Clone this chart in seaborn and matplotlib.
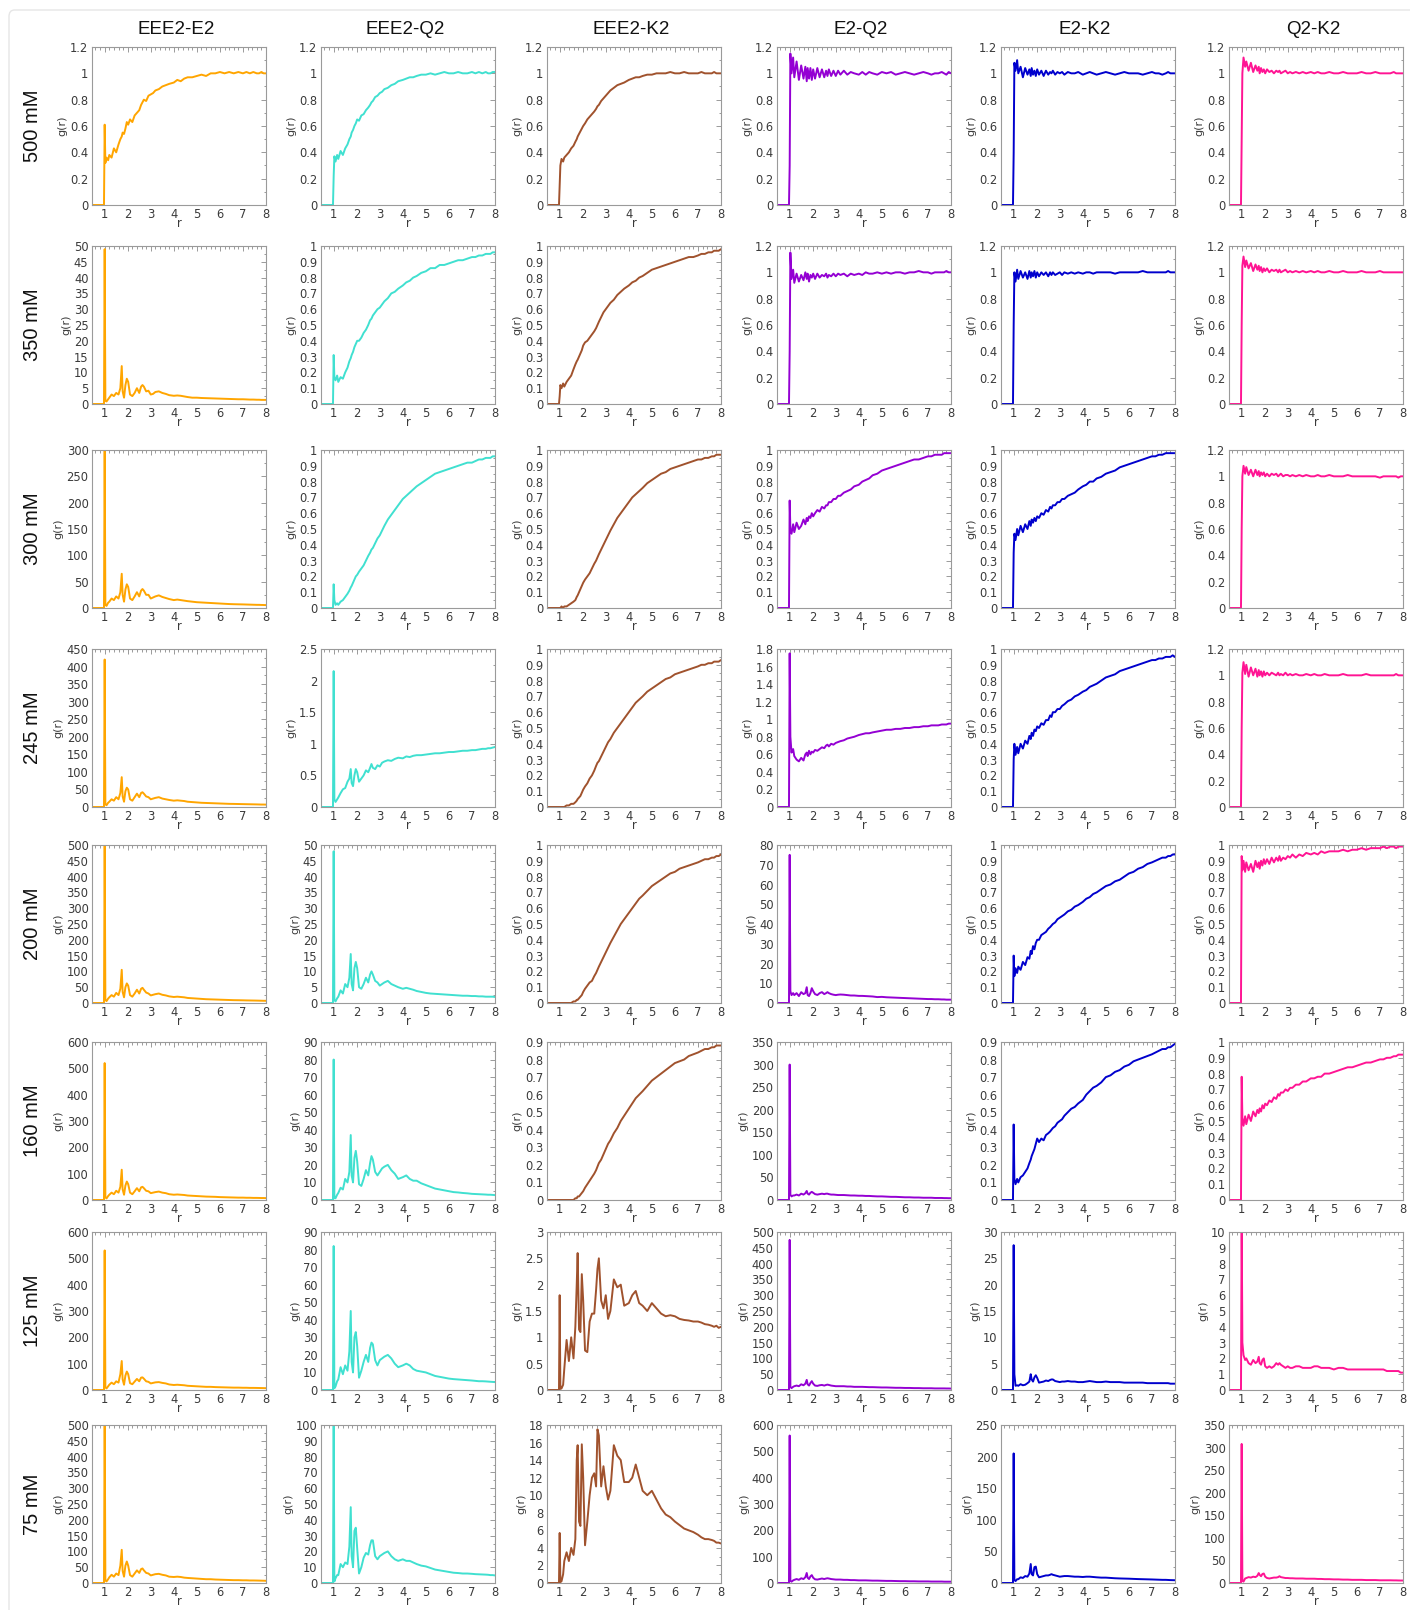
import matplotlib
matplotlib.use("Agg")
import numpy as np
import matplotlib.pyplot as plt
import seaborn as sns
from matplotlib.ticker import AutoMinorLocator, FuncFormatter
from matplotlib.patches import FancyBboxPatch

sns.set_theme(style="white")
plt.rcParams['font.family'] = ['DejaVu Sans']

# ---------------- data ----------------
R = [0.45, 0.97, 1.0, 1.03, 1.08, 1.15,
     1.2, 1.3, 1.4, 1.5, 1.6, 1.68,
     1.74, 1.78, 1.84, 1.9, 1.96, 2.02,
     2.1, 2.2, 2.3, 2.4, 2.5, 2.58,
     2.64, 2.7, 2.8, 2.9, 3.0, 3.1,
     3.2, 3.35, 3.5, 3.65, 3.8, 4.0,
     4.15, 4.3, 4.45, 4.6, 4.8, 5.0,
     5.2, 5.4, 5.6, 5.8, 6.0, 6.2,
     6.4, 6.6, 6.8, 7.0, 7.15, 7.3,
     7.45, 7.6, 7.7, 7.8, 7.9, 8.0]

PAIRS = ["EEE2-E2", "EEE2-Q2", "EEE2-K2", "E2-Q2", "E2-K2", "Q2-K2"]
CONCS = ["500 mM", "350 mM", "300 mM", "245 mM", "200 mM", "160 mM", "125 mM", "75 mM"]
COLORS = ["#FFA500", "#40E0D0", "#A0522D", "#9400D3", "#0000CD", "#FF1493"]

YTOP_EEE2_E2 = [1.2, 50, 300, 450, 500, 600, 600, 500]
YSTEP_EEE2_E2 = [0.2, 5, 50, 50, 50, 100, 100, 50]
YTOP_EEE2_Q2 = [1.2, 1, 1, 2.5, 50, 90, 90, 100]
YSTEP_EEE2_Q2 = [0.2, 0.1, 0.1, 0.5, 5, 10, 10, 10]
YTOP_EEE2_K2 = [1.2, 1, 1, 1, 1, 0.9, 3, 18]
YSTEP_EEE2_K2 = [0.2, 0.1, 0.1, 0.1, 0.1, 0.1, 0.5, 2]
YTOP_E2_Q2 = [1.2, 1.2, 1, 1.8, 80, 350, 500, 600]
YSTEP_E2_Q2 = [0.2, 0.2, 0.1, 0.2, 10, 50, 50, 100]
YTOP_E2_K2 = [1.2, 1.2, 1, 1, 1, 0.9, 30, 250]
YSTEP_E2_K2 = [0.2, 0.2, 0.1, 0.1, 0.1, 0.1, 5, 50]
YTOP_Q2_K2 = [1.2, 1.2, 1.2, 1.2, 1, 1, 10, 350]
YSTEP_Q2_K2 = [0.2, 0.2, 0.2, 0.2, 0.1, 0.1, 1, 50]

# ---- 500 mM ----
EEE2_E2_500 = [0, 0, 0.61, 0.32, 0.36, 0.34,
               0.38, 0.36, 0.43, 0.40, 0.46, 0.50,
               0.52, 0.55, 0.54, 0.58, 0.63, 0.61,
               0.65, 0.63, 0.68, 0.70, 0.72, 0.76,
               0.78, 0.80, 0.79, 0.83, 0.84, 0.85,
               0.87, 0.88, 0.90, 0.91, 0.92, 0.93,
               0.95, 0.94, 0.96, 0.97, 0.97, 0.98,
               0.99, 0.98, 1.00, 1.00, 1.01, 1.00,
               1.01, 1.00, 1.01, 1.00, 1.01, 1.00,
               1.01, 1.00, 1.00, 1.01, 1.00, 1.00]
EEE2_Q2_500 = [0, 0, 0.22, 0.37, 0.33, 0.38,
               0.35, 0.41, 0.38, 0.43, 0.46, 0.50,
               0.52, 0.55, 0.57, 0.60, 0.62, 0.65,
               0.64, 0.68, 0.69, 0.72, 0.74, 0.76,
               0.78, 0.79, 0.82, 0.83, 0.85, 0.86,
               0.88, 0.89, 0.91, 0.92, 0.94, 0.95,
               0.96, 0.97, 0.97, 0.98, 0.99, 0.99,
               1.00, 0.99, 1.00, 1.01, 1.00, 1.00,
               1.01, 1.00, 1.00, 1.01, 1.00, 1.01,
               1.00, 1.01, 1.00, 1.00, 1.01, 1.01]
EEE2_K2_500 = [0, 0, 0.15, 0.30, 0.35, 0.33,
               0.36, 0.38, 0.40, 0.43, 0.45, 0.48,
               0.50, 0.52, 0.54, 0.56, 0.58, 0.60,
               0.62, 0.65, 0.67, 0.69, 0.71, 0.73,
               0.75, 0.76, 0.79, 0.81, 0.83, 0.85,
               0.87, 0.89, 0.91, 0.92, 0.93, 0.95,
               0.96, 0.97, 0.97, 0.98, 0.99, 0.99,
               1.00, 1.00, 1.00, 1.01, 1.00, 1.00,
               1.01, 1.00, 1.00, 1.00, 1.01, 1.00,
               1.00, 1.00, 1.01, 1.00, 1.00, 1.00]
E2_Q2_500 = [0, 0, 0.3, 1.15, 1.00, 1.12,
             0.97, 1.09, 0.95, 1.06, 0.96, 1.05,
             0.94, 1.04, 0.96, 1.04, 0.95, 1.03,
             0.96, 1.04, 0.97, 1.03, 0.97, 1.02,
             0.98, 1.03, 0.98, 1.02, 0.98, 1.02,
             0.99, 1.02, 0.99, 1.01, 1.00, 0.99,
             1.01, 0.99, 1.01, 1.00, 0.99, 1.01,
             1.00, 1.01, 0.99, 1.00, 1.01, 1.00,
             0.99, 1.00, 1.01, 1.00, 0.99, 1.00,
             1.00, 1.01, 1.00, 0.99, 1.01, 1.00]
E2_K2_500 = [0, 0, 0.4, 1.08, 1.02, 1.10,
             1.00, 1.05, 0.97, 1.04, 0.99, 1.03,
             0.98, 1.04, 0.99, 1.02, 0.98, 1.03,
             0.99, 1.02, 0.98, 1.02, 0.99, 1.01,
             1.00, 1.02, 0.99, 1.01, 1.00, 1.01,
             0.99, 1.01, 1.00, 1.00, 1.01, 0.99,
             1.00, 1.01, 1.00, 0.99, 1.00, 1.01,
             1.00, 0.99, 1.00, 1.01, 1.00, 1.00,
             1.00, 0.99, 1.00, 1.01, 1.00, 1.00,
             0.99, 1.00, 1.01, 1.00, 1.00, 1.00]
Q2_K2_500 = [0, 0, 0.5, 1.0, 1.12, 1.05,
             1.09, 1.02, 1.08, 1.01, 1.06, 1.02,
             1.05, 1.00, 1.04, 1.01, 1.03, 1.00,
             1.03, 1.01, 1.02, 1.00, 1.02, 1.01,
             1.02, 1.00, 1.01, 1.02, 1.00, 1.01,
             1.00, 1.01, 1.00, 1.01, 1.00, 1.01,
             1.00, 1.01, 1.00, 1.00, 1.01, 1.00,
             1.00, 1.01, 1.00, 1.00, 1.00, 1.01,
             1.00, 1.00, 1.01, 1.00, 1.00, 1.00,
             1.00, 1.01, 1.00, 1.00, 1.00, 1.00]

# ---- 350 mM ----
EEE2_E2_350 = [0, 0, 49, 1.0, 0.8, 1.5,
               2.0, 3.0, 2.5, 3.5, 3.0, 5.0,
               12, 4.0, 2.0, 6.0, 8.0, 7.0,
               3.0, 2.5, 3.5, 5.0, 3.5, 5.5,
               6.0, 5.5, 4.0, 4.2, 3.0, 3.2,
               3.8, 4.0, 3.5, 3.2, 2.8, 2.6,
               2.7, 2.6, 2.4, 2.2, 2.0, 2.0,
               1.9, 1.85, 1.8, 1.75, 1.7, 1.65,
               1.6, 1.55, 1.5, 1.5, 1.45, 1.4,
               1.4, 1.35, 1.35, 1.3, 1.3, 1.3]
EEE2_Q2_350 = [0, 0, 0.31, 0.17, 0.15, 0.18,
               0.14, 0.17, 0.16, 0.20, 0.23, 0.27,
               0.29, 0.31, 0.33, 0.36, 0.38, 0.40,
               0.40, 0.42, 0.45, 0.47, 0.50, 0.53,
               0.54, 0.56, 0.58, 0.60, 0.61, 0.63,
               0.65, 0.67, 0.70, 0.71, 0.73, 0.75,
               0.77, 0.78, 0.80, 0.81, 0.83, 0.84,
               0.86, 0.86, 0.88, 0.88, 0.89, 0.90,
               0.91, 0.91, 0.92, 0.93, 0.93, 0.94,
               0.94, 0.95, 0.95, 0.95, 0.96, 0.96]
EEE2_K2_350 = [0, 0, 0.05, 0.12, 0.10, 0.13,
               0.11, 0.14, 0.16, 0.18, 0.22, 0.25,
               0.27, 0.28, 0.30, 0.32, 0.34, 0.37,
               0.39, 0.40, 0.42, 0.44, 0.46, 0.48,
               0.50, 0.52, 0.55, 0.58, 0.60, 0.62,
               0.64, 0.66, 0.69, 0.71, 0.73, 0.75,
               0.77, 0.78, 0.80, 0.81, 0.83, 0.85,
               0.86, 0.87, 0.88, 0.89, 0.90, 0.91,
               0.92, 0.93, 0.93, 0.94, 0.95, 0.95,
               0.96, 0.96, 0.97, 0.97, 0.97, 0.98]
E2_Q2_350 = [0, 0, 0.4, 1.15, 0.95, 1.02,
             0.92, 0.99, 0.93, 0.98, 0.94, 1.00,
             0.95, 0.99, 0.93, 0.98, 0.96, 0.99,
             0.95, 0.99, 0.96, 0.98, 0.97, 0.99,
             0.96, 0.98, 0.97, 0.99, 0.97, 0.99,
             0.98, 0.99, 0.97, 0.99, 0.98, 0.99,
             0.98, 1.00, 0.99, 0.99, 1.00, 0.99,
             1.00, 0.99, 1.00, 1.00, 0.99, 1.00,
             1.00, 1.01, 1.00, 1.00, 0.99, 1.00,
             1.00, 1.00, 1.00, 1.01, 1.00, 1.00]
E2_K2_350 = [0, 0, 0.6, 1.0, 0.93, 1.02,
             0.95, 1.01, 0.96, 1.00, 0.95, 1.01,
             0.96, 1.00, 0.97, 1.01, 0.96, 1.00,
             0.97, 1.00, 0.98, 1.00, 0.97, 1.00,
             0.98, 1.00, 0.98, 0.99, 1.00, 0.98,
             1.00, 0.99, 1.00, 0.99, 1.00, 0.99,
             1.00, 1.00, 0.99, 1.00, 1.00, 1.00,
             1.00, 0.99, 1.00, 1.00, 1.00, 1.00,
             1.00, 1.01, 1.00, 1.00, 1.00, 1.00,
             1.00, 1.00, 1.01, 1.00, 1.00, 1.00]
Q2_K2_350 = [0, 0, 0.6, 1.05, 1.12, 1.04,
             1.09, 1.03, 1.07, 1.01, 1.06, 1.02,
             1.05, 1.01, 1.04, 1.00, 1.03, 1.01,
             1.03, 1.00, 1.02, 1.01, 1.02, 1.00,
             1.02, 1.00, 1.01, 1.02, 1.00, 1.01,
             1.00, 1.01, 1.00, 1.01, 1.00, 1.01,
             1.00, 1.01, 1.00, 1.00, 1.01, 1.00,
             1.00, 1.01, 1.00, 1.00, 1.00, 1.01,
             1.00, 1.00, 1.00, 1.01, 1.00, 1.00,
             1.00, 1.00, 1.00, 1.00, 1.00, 1.00]

# ---- 300 mM ----
EEE2_E2_300 = [0, 0, 310, 6, 4, 10,
               12, 18, 15, 22, 18, 30,
               65, 25, 12, 35, 45, 40,
               18, 15, 22, 30, 22, 33,
               36, 33, 25, 25, 18, 20,
               22, 24, 21, 19, 17, 15,
               16, 15, 14, 13, 12, 11,
               10.5, 10, 9.5, 9, 8.5, 8,
               7.5, 7.2, 7, 6.8, 6.6, 6.4,
               6.2, 6, 6, 5.8, 5.7, 5.5]
EEE2_Q2_300 = [0, 0, 0.15, 0.05, 0.02, 0.03,
               0.02, 0.04, 0.05, 0.07, 0.09, 0.11,
               0.13, 0.14, 0.16, 0.18, 0.20, 0.21,
               0.23, 0.25, 0.27, 0.30, 0.33, 0.35,
               0.37, 0.38, 0.41, 0.44, 0.46, 0.49,
               0.52, 0.56, 0.59, 0.62, 0.65, 0.69,
               0.71, 0.73, 0.75, 0.77, 0.79, 0.81,
               0.83, 0.85, 0.86, 0.87, 0.88, 0.89,
               0.90, 0.91, 0.92, 0.92, 0.93, 0.94,
               0.94, 0.95, 0.95, 0.95, 0.96, 0.96]
EEE2_K2_300 = [0, 0, 0.0, 0.0, 0.01, 0.0,
               0.01, 0.01, 0.02, 0.03, 0.04, 0.05,
               0.07, 0.08, 0.10, 0.12, 0.14, 0.16,
               0.18, 0.20, 0.22, 0.25, 0.28, 0.30,
               0.32, 0.34, 0.37, 0.40, 0.43, 0.46,
               0.49, 0.53, 0.57, 0.60, 0.63, 0.67,
               0.70, 0.72, 0.74, 0.76, 0.79, 0.81,
               0.83, 0.85, 0.86, 0.88, 0.89, 0.90,
               0.91, 0.92, 0.93, 0.94, 0.94, 0.95,
               0.95, 0.96, 0.96, 0.97, 0.97, 0.97]
E2_Q2_300 = [0, 0, 0.68, 0.50, 0.47, 0.53,
             0.48, 0.54, 0.50, 0.52, 0.56, 0.53,
             0.57, 0.55, 0.58, 0.57, 0.60, 0.58,
             0.60, 0.62, 0.61, 0.64, 0.63, 0.65,
             0.65, 0.67, 0.67, 0.69, 0.69, 0.71,
             0.71, 0.73, 0.74, 0.75, 0.77, 0.78,
             0.80, 0.81, 0.82, 0.84, 0.85, 0.87,
             0.88, 0.89, 0.90, 0.91, 0.92, 0.93,
             0.94, 0.94, 0.95, 0.96, 0.96, 0.97,
             0.97, 0.97, 0.98, 0.98, 0.98, 0.98]
E2_K2_300 = [0, 0, 0.35, 0.47, 0.43, 0.50,
             0.46, 0.52, 0.48, 0.53, 0.50, 0.55,
             0.52, 0.56, 0.54, 0.57, 0.55, 0.58,
             0.57, 0.60, 0.59, 0.62, 0.61, 0.64,
             0.63, 0.65, 0.65, 0.67, 0.67, 0.69,
             0.69, 0.71, 0.72, 0.73, 0.75, 0.77,
             0.78, 0.80, 0.80, 0.82, 0.83, 0.85,
             0.86, 0.87, 0.89, 0.90, 0.91, 0.92,
             0.93, 0.94, 0.95, 0.96, 0.96, 0.97,
             0.97, 0.98, 0.98, 0.98, 0.98, 0.98]
Q2_K2_300 = [0, 0, 0.6, 1.0, 1.08, 1.02,
             1.07, 1.01, 1.05, 1.00, 1.05, 1.01,
             1.04, 1.00, 1.03, 1.01, 1.03, 1.00,
             1.02, 1.00, 1.02, 1.01, 1.02, 1.00,
             1.01, 1.02, 1.00, 1.01, 1.01, 1.00,
             1.01, 1.00, 1.01, 1.00, 1.01, 1.00,
             1.00, 1.01, 1.00, 1.00, 1.01, 1.00,
             1.00, 1.00, 1.01, 1.00, 1.00, 1.00,
             1.00, 1.00, 1.00, 0.99, 1.00, 1.00,
             1.00, 1.00, 1.00, 0.99, 1.00, 1.00]

# ---- 245 mM ----
EEE2_E2_245 = [0, 0, 420, 8, 5, 12,
               15, 22, 18, 28, 22, 40,
               85, 30, 15, 45, 55, 50,
               22, 18, 28, 38, 28, 40,
               42, 38, 30, 28, 22, 24,
               26, 28, 24, 22, 20, 18,
               19, 18, 17, 15, 14, 13,
               12, 11.5, 11, 10.5, 10, 9.5,
               9, 8.8, 8.5, 8.2, 8, 7.8,
               7.6, 7.4, 7.2, 7, 7, 6.8]
EEE2_Q2_245 = [0, 0, 2.15, 0.12, 0.08, 0.12,
               0.15, 0.22, 0.28, 0.30, 0.40, 0.45,
               0.60, 0.38, 0.33, 0.50, 0.60, 0.55,
               0.40, 0.45, 0.50, 0.58, 0.55, 0.62,
               0.68, 0.62, 0.60, 0.66, 0.64, 0.70,
               0.72, 0.74, 0.73, 0.76, 0.78, 0.77,
               0.80, 0.79, 0.81, 0.82, 0.82, 0.83,
               0.84, 0.85, 0.85, 0.86, 0.87, 0.87,
               0.88, 0.89, 0.89, 0.90, 0.90, 0.91,
               0.92, 0.92, 0.93, 0.93, 0.94, 0.95]
EEE2_K2_245 = [0, 0, 0.0, 0.0, 0.0, 0.0,
               0.0, 0.01, 0.01, 0.02, 0.02, 0.03,
               0.04, 0.05, 0.06, 0.07, 0.09, 0.11,
               0.13, 0.15, 0.18, 0.20, 0.23, 0.26,
               0.28, 0.29, 0.32, 0.35, 0.38, 0.41,
               0.43, 0.47, 0.50, 0.53, 0.56, 0.60,
               0.63, 0.66, 0.68, 0.70, 0.73, 0.75,
               0.77, 0.79, 0.81, 0.82, 0.84, 0.85,
               0.86, 0.87, 0.88, 0.89, 0.90, 0.90,
               0.91, 0.91, 0.92, 0.92, 0.92, 0.93]
E2_Q2_245 = [0, 0, 1.75, 0.80, 0.62, 0.66,
             0.58, 0.54, 0.52, 0.56, 0.53, 0.60,
             0.62, 0.58, 0.64, 0.60, 0.63, 0.62,
             0.65, 0.64, 0.66, 0.68, 0.67, 0.70,
             0.71, 0.69, 0.72, 0.71, 0.73, 0.74,
             0.75, 0.76, 0.78, 0.79, 0.80, 0.82,
             0.83, 0.84, 0.84, 0.85, 0.86, 0.87,
             0.88, 0.88, 0.89, 0.89, 0.90, 0.90,
             0.91, 0.91, 0.92, 0.92, 0.93, 0.93,
             0.93, 0.94, 0.94, 0.94, 0.95, 0.95]
E2_K2_245 = [0, 0, 0.30, 0.40, 0.33, 0.38,
             0.34, 0.40, 0.37, 0.42, 0.40, 0.45,
             0.43, 0.47, 0.45, 0.49, 0.48, 0.51,
             0.50, 0.53, 0.52, 0.55, 0.55, 0.58,
             0.57, 0.60, 0.60, 0.62, 0.62, 0.64,
             0.65, 0.67, 0.68, 0.70, 0.71, 0.73,
             0.74, 0.76, 0.77, 0.78, 0.80, 0.82,
             0.83, 0.84, 0.86, 0.87, 0.88, 0.89,
             0.90, 0.91, 0.92, 0.93, 0.93, 0.94,
             0.94, 0.95, 0.95, 0.95, 0.96, 0.95]
Q2_K2_245 = [0, 0, 0.6, 1.02, 1.10, 1.01,
             1.08, 0.99, 1.06, 1.00, 1.05, 0.99,
             1.04, 1.00, 1.03, 0.99, 1.03, 1.00,
             1.02, 1.00, 1.02, 1.01, 1.00, 1.02,
             1.00, 1.01, 1.00, 1.02, 1.00, 1.01,
             1.00, 1.01, 1.00, 1.00, 1.01, 1.00,
             1.01, 1.00, 1.00, 1.01, 1.00, 1.00,
             1.00, 1.01, 1.00, 1.00, 1.00, 1.00,
             1.01, 1.00, 1.00, 1.00, 1.00, 1.00,
             1.00, 1.00, 1.01, 1.00, 1.00, 1.00]

# ---- 200 mM ----
EEE2_E2_200 = [0, 0, 520, 10, 6, 14,
               18, 25, 20, 32, 25, 45,
               105, 35, 18, 50, 62, 55,
               25, 20, 30, 42, 30, 45,
               48, 42, 33, 30, 24, 26,
               28, 30, 26, 24, 21, 19,
               20, 19, 18, 16, 15, 14,
               13, 12, 11.5, 11, 10.5, 10,
               9.5, 9, 8.8, 8.5, 8.2, 8,
               7.8, 7.6, 7.4, 7.2, 7, 7]
EEE2_Q2_200 = [0, 0, 48, 1.0, 0.5, 1.5,
               2.0, 4.0, 3.0, 6.0, 5.0, 8.0,
               15.5, 6.0, 4.0, 11, 13, 11,
               5.0, 4.5, 6.0, 8.0, 6.5, 9.0,
               10, 9.0, 7.0, 6.5, 5.5, 6.0,
               6.5, 7.0, 6.0, 5.5, 5.0, 4.5,
               4.8, 4.5, 4.2, 3.8, 3.5, 3.2,
               3.0, 2.9, 2.8, 2.7, 2.6, 2.5,
               2.4, 2.3, 2.3, 2.2, 2.2, 2.1,
               2.1, 2.0, 2.0, 2.0, 2.0, 1.9]
EEE2_K2_200 = [0, 0, 0, 0, 0, 0,
               0, 0, 0, 0.0, 0.01, 0.01,
               0.02, 0.02, 0.03, 0.04, 0.05, 0.07,
               0.09, 0.11, 0.13, 0.14, 0.17, 0.19,
               0.21, 0.23, 0.26, 0.29, 0.32, 0.35,
               0.38, 0.42, 0.46, 0.50, 0.53, 0.57,
               0.60, 0.63, 0.66, 0.68, 0.71, 0.74,
               0.76, 0.78, 0.80, 0.82, 0.83, 0.85,
               0.86, 0.87, 0.88, 0.89, 0.90, 0.91,
               0.91, 0.92, 0.92, 0.93, 0.93, 0.94]
E2_Q2_200 = [0, 0, 75, 6, 4, 5,
             4, 5, 3.5, 5.5, 4.5, 5,
             8, 4, 3.5, 5, 7.5, 6,
             4.5, 4, 5, 5.5, 4.5, 5,
             5.5, 5, 4.5, 4.2, 4, 4.2,
             4.3, 4.2, 4, 3.8, 3.8, 3.6,
             3.6, 3.5, 3.4, 3.3, 3.0, 3.1,
             2.9, 2.8, 2.7, 2.6, 2.5, 2.4,
             2.3, 2.2, 2.1, 2.0, 2.0, 1.9,
             1.9, 1.8, 1.8, 1.7, 1.7, 1.7]
E2_K2_200 = [0, 0, 0.30, 0.17, 0.22, 0.19,
             0.23, 0.21, 0.26, 0.24, 0.29, 0.28,
             0.33, 0.31, 0.36, 0.34, 0.38, 0.40,
             0.40, 0.43, 0.44, 0.45, 0.47, 0.48,
             0.49, 0.50, 0.51, 0.53, 0.54, 0.55,
             0.56, 0.58, 0.59, 0.61, 0.62, 0.64,
             0.66, 0.67, 0.69, 0.70, 0.72, 0.74,
             0.75, 0.77, 0.78, 0.80, 0.82, 0.83,
             0.85, 0.86, 0.88, 0.89, 0.90, 0.91,
             0.92, 0.92, 0.93, 0.93, 0.94, 0.94]
Q2_K2_200 = [0, 0, 0.93, 0.84, 0.90, 0.83,
             0.89, 0.84, 0.88, 0.83, 0.90, 0.86,
             0.89, 0.85, 0.90, 0.87, 0.91, 0.88,
             0.91, 0.88, 0.92, 0.89, 0.92, 0.90,
             0.93, 0.90, 0.92, 0.91, 0.93, 0.92,
             0.94, 0.92, 0.94, 0.93, 0.95, 0.94,
             0.95, 0.94, 0.96, 0.95, 0.96, 0.96,
             0.96, 0.97, 0.96, 0.97, 0.97, 0.98,
             0.97, 0.98, 0.98, 0.98, 0.99, 0.98,
             0.99, 0.99, 0.98, 0.99, 0.99, 0.99]

# ---- 160 mM ----
EEE2_E2_160 = [0, 0, 520, 10, 6, 15,
               20, 28, 22, 35, 28, 50,
               115, 40, 20, 55, 70, 60,
               28, 22, 33, 45, 33, 48,
               50, 45, 35, 33, 26, 28,
               30, 32, 28, 26, 22, 20,
               21, 20, 19, 17, 16, 15,
               14, 13, 12.5, 12, 11, 10.5,
               10, 9.5, 9, 9, 8.5, 8.5,
               8, 8, 7.8, 7.5, 7.5, 7.2]
EEE2_Q2_160 = [0, 0, 80, 1.0, 1.0, 3.0,
               4.0, 7.0, 6.0, 12, 10, 16,
               37, 14, 10, 24, 28, 22,
               9.0, 8.0, 12, 17, 14, 21,
               25, 23, 16, 14, 16, 18,
               19, 20, 17, 15, 12, 13,
               14, 12, 11, 11, 9.5, 8.5,
               7.5, 6.5, 6.0, 5.5, 5.0, 4.5,
               4.3, 4.0, 3.8, 3.5, 3.4, 3.3,
               3.2, 3.1, 3.0, 3.0, 2.9, 2.8]
EEE2_K2_160 = [0, 0, 0, 0, 0, 0,
               0, 0, 0, 0, 0.0, 0.01,
               0.01, 0.02, 0.02, 0.03, 0.04, 0.05,
               0.07, 0.09, 0.11, 0.13, 0.15, 0.17,
               0.19, 0.21, 0.23, 0.26, 0.29, 0.32,
               0.34, 0.38, 0.41, 0.45, 0.48, 0.52,
               0.55, 0.58, 0.60, 0.62, 0.65, 0.68,
               0.70, 0.72, 0.74, 0.76, 0.78, 0.79,
               0.80, 0.82, 0.83, 0.84, 0.85, 0.86,
               0.86, 0.87, 0.87, 0.88, 0.88, 0.88]
E2_Q2_160 = [0, 0, 300, 12, 8, 10,
             10, 12, 10, 14, 12, 15,
             20, 14, 12, 16, 18, 16,
             13, 12, 13, 14, 13, 14,
             14, 13, 12, 12, 11.5, 11,
             11, 11, 10.5, 10, 10, 9.5,
             9.5, 9, 9, 8.5, 8, 8,
             7.5, 7, 7, 6.5, 6, 6,
             5.5, 5.5, 5, 5, 5, 4.5,
             4.5, 4.5, 4.2, 4.2, 4, 4]
E2_K2_160 = [0, 0, 0.43, 0.12, 0.09, 0.12,
             0.10, 0.13, 0.14, 0.16, 0.18, 0.21,
             0.23, 0.25, 0.27, 0.29, 0.32, 0.35,
             0.33, 0.35, 0.34, 0.37, 0.38, 0.39,
             0.40, 0.41, 0.42, 0.44, 0.45, 0.46,
             0.48, 0.50, 0.52, 0.53, 0.55, 0.57,
             0.60, 0.62, 0.64, 0.65, 0.67, 0.70,
             0.71, 0.73, 0.74, 0.76, 0.77, 0.79,
             0.80, 0.81, 0.82, 0.83, 0.84, 0.85,
             0.86, 0.86, 0.87, 0.87, 0.88, 0.89]
Q2_K2_160 = [0, 0, 0.78, 0.52, 0.47, 0.53,
             0.48, 0.54, 0.50, 0.56, 0.53, 0.57,
             0.55, 0.58, 0.56, 0.60, 0.58, 0.61,
             0.60, 0.63, 0.62, 0.65, 0.64, 0.67,
             0.66, 0.68, 0.68, 0.70, 0.69, 0.71,
             0.71, 0.73, 0.73, 0.75, 0.75, 0.77,
             0.77, 0.78, 0.78, 0.80, 0.80, 0.81,
             0.82, 0.83, 0.84, 0.84, 0.85, 0.86,
             0.87, 0.87, 0.88, 0.89, 0.89, 0.90,
             0.90, 0.91, 0.91, 0.92, 0.92, 0.92]

# ---- 125 mM ----
EEE2_E2_125 = [0, 0, 530, 10, 6, 14,
               20, 28, 22, 33, 28, 60,
               110, 40, 20, 55, 70, 60,
               26, 22, 32, 42, 33, 47,
               48, 43, 33, 31, 25, 27,
               29, 30, 27, 25, 21, 19,
               20, 19, 18, 16, 15, 14,
               13, 12, 12, 11, 10.5, 10,
               9.5, 9, 9, 8.5, 8.5, 8,
               8, 7.8, 7.6, 7.4, 7.2, 7]
EEE2_Q2_125 = [0, 0, 82, 1.0, 2.0, 5.0,
               6.0, 13, 9.0, 14, 11, 22,
               45, 16, 10, 30, 33, 25,
               7.0, 11, 16, 20, 16, 24,
               27, 26, 17, 14, 17, 18,
               19, 20, 18, 15, 13, 14,
               15, 14, 12, 11, 10.5, 10,
               9.0, 8.0, 7.5, 7.0, 6.5, 6.2,
               6.0, 5.8, 5.6, 5.4, 5.2, 5.0,
               5.0, 4.9, 4.8, 4.7, 4.6, 4.5]
EEE2_K2_125 = [0, 0, 1.8, 0.02, 0.03, 0.10,
               0.40, 0.95, 0.55, 1.00, 0.60, 1.20,
               2.00, 2.60, 1.15, 1.10, 2.20, 1.70,
               0.75, 0.72, 1.30, 1.45, 1.45, 1.90,
               2.30, 2.50, 1.70, 1.55, 1.80, 1.35,
               1.50, 2.10, 1.95, 2.00, 1.60, 1.65,
               1.80, 1.88, 1.65, 1.60, 1.50, 1.65,
               1.55, 1.45, 1.40, 1.42, 1.40, 1.35,
               1.33, 1.32, 1.30, 1.30, 1.28, 1.25,
               1.24, 1.22, 1.20, 1.22, 1.18, 1.20]
E2_Q2_125 = [0, 0, 475, 10, 6, 10,
             12, 14, 12, 18, 15, 20,
             32, 18, 14, 22, 28, 20,
             14, 13, 15, 16, 14, 16,
             17, 16, 14, 13, 12, 12,
             12, 12, 11, 11, 10, 10,
             10, 9.5, 9, 9, 8.5, 8,
             8, 7.5, 7, 7, 6.5, 6.5,
             6, 6, 5.5, 5.5, 5.5, 5,
             5, 5, 5, 4.8, 4.8, 4.5]
E2_K2_125 = [0, 0, 27.5, 3.0, 0.8, 0.9,
             0.8, 1.1, 0.9, 1.0, 1.3, 1.6,
             3.0, 2.0, 1.6, 2.4, 2.8, 2.3,
             1.4, 1.5, 1.6, 1.8, 1.7, 1.9,
             2.0, 2.0, 1.7, 1.6, 1.5, 1.6,
             1.6, 1.7, 1.6, 1.6, 1.5, 1.5,
             1.6, 1.7, 1.6, 1.5, 1.5, 1.6,
             1.5, 1.5, 1.5, 1.4, 1.4, 1.4,
             1.4, 1.4, 1.3, 1.3, 1.3, 1.3,
             1.3, 1.3, 1.3, 1.2, 1.2, 1.2]
Q2_K2_125 = [0, 0, 11, 3.0, 2.2, 1.9,
             2.0, 1.7, 1.6, 1.9, 1.7, 1.8,
             2.1, 1.7, 1.6, 1.9, 2.0, 1.5,
             1.4, 1.5, 1.4, 1.5, 1.7, 1.6,
             1.7, 1.6, 1.5, 1.4, 1.5, 1.4,
             1.4, 1.5, 1.5, 1.4, 1.4, 1.4,
             1.5, 1.5, 1.4, 1.4, 1.4, 1.3,
             1.4, 1.4, 1.3, 1.3, 1.3, 1.3,
             1.3, 1.3, 1.3, 1.3, 1.3, 1.2,
             1.2, 1.2, 1.2, 1.2, 1.1, 1.1]

# ---- 75 mM ----
EEE2_E2_75 = [0, 0, 560, 8, 5, 12,
              18, 26, 20, 30, 25, 55,
              105, 38, 20, 55, 68, 55,
              25, 20, 30, 40, 32, 44,
              46, 40, 32, 30, 24, 26,
              28, 29, 26, 24, 20, 19,
              20, 19, 17, 16, 15, 14,
              13, 12, 12, 11, 10.5, 10,
              9.5, 9, 9, 8.5, 8.5, 8,
              8, 7.8, 7.6, 7.4, 7.2, 7]
EEE2_Q2_75 = [0, 0, 105, 1.0, 3.0, 5.0,
              5.0, 12, 10, 13, 12, 23,
              48, 17, 10, 33, 35, 22,
              6.0, 10, 16, 19, 18, 24,
              27, 27, 17, 15, 17, 18,
              19, 20, 17, 15, 14, 15,
              14, 14, 13, 12, 11, 10.5,
              9.5, 8.5, 8, 7.5, 7, 6.5,
              6.3, 6, 6, 5.8, 5.6, 5.5,
              5.4, 5.3, 5.2, 5, 5, 4.8]
EEE2_K2_75 = [0, 0, 5.7, 0.1, 0.2, 1.0,
              2.5, 3.5, 2.5, 4.0, 3.2, 5.0,
              14.0, 15.7, 7.0, 6.5, 15.8, 12.0,
              4.3, 7.0, 10.0, 12.0, 12.5, 11.0,
              17.5, 16.8, 11.0, 13.3, 11.0, 9.5,
              10.5, 15.7, 14.5, 14.0, 11.5, 11.5,
              12.0, 13.5, 12.0, 10.5, 10.0, 10.5,
              9.5, 8.5, 7.8, 7.5, 7.0, 6.6,
              6.2, 6.0, 5.8, 5.5, 5.2, 5.0,
              5.0, 4.9, 4.8, 4.6, 4.6, 4.5]
E2_Q2_75 = [0, 0, 560, 8, 5, 10,
            12, 15, 12, 18, 15, 22,
            38, 20, 15, 25, 30, 20,
            14, 13, 15, 17, 15, 17,
            18, 17, 15, 14, 13, 13,
            13, 12, 12, 11, 11, 10,
            10, 10, 9.5, 9, 9, 8.5,
            8, 8, 7.5, 7, 7, 6.5,
            6.5, 6, 6, 6, 5.5, 5.5,
            5.5, 5.5, 5, 5, 5, 5]
E2_K2_75 = [0, 0, 205, 5, 3, 6,
            6, 9, 8, 11, 10, 15,
            30, 14, 12, 25, 26, 14,
            9, 10, 11, 12, 12, 13,
            14, 13, 12, 11, 10, 10.5,
            11, 11, 10.5, 10, 10, 9.5,
            10, 10, 9.5, 9, 8.5, 8.5,
            8, 7.5, 7.2, 7, 6.8, 6.5,
            6.2, 6, 5.8, 5.6, 5.4, 5.2,
            5, 5, 4.8, 4.6, 4.5, 4.4]
Q2_K2_75 = [0, 0, 308, 5, 3, 10,
            11, 13, 12, 14, 13, 16,
            22, 18, 15, 20, 21, 14,
            11, 10, 11, 12, 12, 13,
            15, 13, 12, 11, 11, 10.5,
            10.5, 10, 10, 10, 9.5, 9.5,
            9.5, 9, 9, 8.5, 8.5, 8,
            8, 7.5, 7.5, 7, 7, 7,
            6.5, 6.5, 6.5, 6, 6, 6,
            6, 5.8, 5.8, 5.6, 5.5, 5.5]

# ---------------- assemble ----------------
SERIES = {
    "EEE2-E2": [EEE2_E2_500, EEE2_E2_350, EEE2_E2_300, EEE2_E2_245, EEE2_E2_200, EEE2_E2_160, EEE2_E2_125, EEE2_E2_75],
    "EEE2-Q2": [EEE2_Q2_500, EEE2_Q2_350, EEE2_Q2_300, EEE2_Q2_245, EEE2_Q2_200, EEE2_Q2_160, EEE2_Q2_125, EEE2_Q2_75],
    "EEE2-K2": [EEE2_K2_500, EEE2_K2_350, EEE2_K2_300, EEE2_K2_245, EEE2_K2_200, EEE2_K2_160, EEE2_K2_125, EEE2_K2_75],
    "E2-Q2": [E2_Q2_500, E2_Q2_350, E2_Q2_300, E2_Q2_245, E2_Q2_200, E2_Q2_160, E2_Q2_125, E2_Q2_75],
    "E2-K2": [E2_K2_500, E2_K2_350, E2_K2_300, E2_K2_245, E2_K2_200, E2_K2_160, E2_K2_125, E2_K2_75],
    "Q2-K2": [Q2_K2_500, Q2_K2_350, Q2_K2_300, Q2_K2_245, Q2_K2_200, Q2_K2_160, Q2_K2_125, Q2_K2_75],
}
YTOPS = {"EEE2-E2": YTOP_EEE2_E2, "EEE2-Q2": YTOP_EEE2_Q2, "EEE2-K2": YTOP_EEE2_K2,
         "E2-Q2": YTOP_E2_Q2, "E2-K2": YTOP_E2_K2, "Q2-K2": YTOP_Q2_K2}
YSTEPS = {"EEE2-E2": YSTEP_EEE2_E2, "EEE2-Q2": YSTEP_EEE2_Q2, "EEE2-K2": YSTEP_EEE2_K2,
          "E2-Q2": YSTEP_E2_Q2, "E2-K2": YSTEP_E2_K2, "Q2-K2": YSTEP_Q2_K2}

# ---------------- layout (pixels) ----------------
W, H = 1410, 1610
COL_LEFT = [92, 321, 547, 777, 1001, 1229]
ROW_TOP = [47, 246, 450, 649, 845, 1042, 1232, 1425]
AX_W, AX_H = 174, 158

fig = plt.figure(figsize=(W / 100, H / 100), dpi=100)
fig.patch.set_facecolor("white")

border = FancyBboxPatch((9 / W, -0.02), 1.2, 1 - 10 / H + 0.02,
                        boxstyle="round,pad=0,rounding_size=0.004",
                        transform=fig.transFigure, fill=False,
                        edgecolor="#e6e6e6", lw=1.0)
fig.patches.append(border)

fmt = FuncFormatter(lambda v, p: "%g" % round(v, 6))
TICK_COLOR = "#8a8a8a"
LABEL_COLOR = "#3a3a3a"

for ci, pair in enumerate(PAIRS):
    for ri, conc in enumerate(CONCS):
        left = COL_LEFT[ci]
        top = ROW_TOP[ri]
        ax = fig.add_axes([left / W, 1 - (top + AX_H) / H, AX_W / W, AX_H / H])
        yvals = SERIES[pair][ri]
        sns.lineplot(x=R, y=yvals, ax=ax, color=COLORS[ci], lw=1.4,
                     estimator=None, sort=False, legend=False)
        ytop = YTOPS[pair][ri]
        ystep = YSTEPS[pair][ri]
        ax.set_xlim(0.45, 8.0)
        ax.set_ylim(0, ytop)
        ax.set_xticks(list(range(1, 9)))
        ax.set_yticks(np.round(np.arange(0, ytop + ystep / 2, ystep), 6))
        ax.yaxis.set_major_formatter(fmt)
        ax.xaxis.set_minor_locator(AutoMinorLocator(5))
        ax.yaxis.set_minor_locator(AutoMinorLocator(2))
        ax.tick_params(which="both", direction="in", top=True, right=True,
                       color=TICK_COLOR, width=0.6, labelsize=8.3,
                       labelcolor=LABEL_COLOR, pad=2.5)
        ax.tick_params(which="major", length=3.5)
        ax.tick_params(which="minor", length=1.8)
        for sp in ax.spines.values():
            sp.set_color("#9a9a9a")
            sp.set_linewidth(0.8)
        ax.set_xlabel("r", fontsize=8.3, color=LABEL_COLOR, labelpad=-3)
        ax.set_ylabel("g(r)", fontsize=8, color=LABEL_COLOR, labelpad=2)
        ax.grid(False)
        ax.set_facecolor("white")

# column titles
for ci, pair in enumerate(PAIRS):
    cx = (COL_LEFT[ci] + AX_W / 2 - 3) / W
    fig.text(cx, 1 - 30 / H, pair, ha="center", va="center",
             fontsize=13.5, family=["Liberation Sans", "DejaVu Sans"], color="#111111")

# row labels
for ri, conc in enumerate(CONCS):
    cy = 1 - (ROW_TOP[ri] + AX_H / 2) / H
    fig.text(32 / W, cy, conc, ha="center", va="center", rotation=90,
             fontsize=14.5, family=["Liberation Sans", "DejaVu Sans"], color="#111111")

fig.savefig("out.png", dpi=100, facecolor="white")
